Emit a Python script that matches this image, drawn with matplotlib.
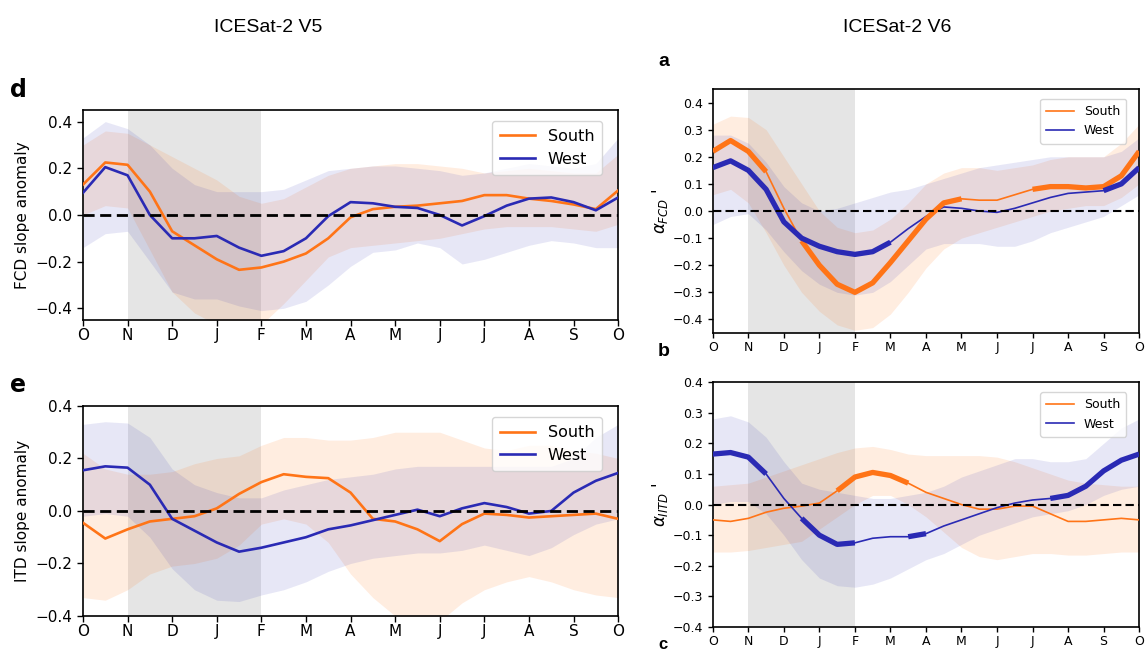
import numpy as np
import matplotlib.pyplot as plt

# month ticks, Oct -> Oct, values sampled every half month
months = ['O', 'N', 'D', 'J', 'F', 'M', 'A', 'M', 'J', 'J', 'A', 'S', 'O']
x = np.arange(25) * 0.5

# ---- V5, panel d (FCD)
d_south = [0.13, 0.225, 0.215, 0.10, -0.07, -0.13, -0.19, -0.235, -0.225, -0.20, -0.165, -0.10, -0.01,
           0.025, 0.035, 0.04, 0.05, 0.06, 0.085, 0.085, 0.07, 0.06, 0.045, 0.025, 0.105]
d_south_lo = [0.0, 0.04, 0.03, -0.15, -0.33, -0.42, -0.47, -0.5, -0.47, -0.38, -0.28, -0.18, -0.14,
              -0.13, -0.12, -0.11, -0.1, -0.08, -0.06, -0.05, -0.05, -0.05, -0.06, -0.07, -0.04]
d_south_hi = [0.3, 0.36, 0.35, 0.3, 0.25, 0.2, 0.15, 0.08, 0.05, 0.07, 0.12, 0.17, 0.2,
              0.21, 0.22, 0.22, 0.21, 0.2, 0.18, 0.19, 0.2, 0.19, 0.18, 0.18, 0.26]
d_west = [0.095, 0.205, 0.17, 0.0, -0.1, -0.1, -0.09, -0.14, -0.175, -0.155, -0.1, -0.005, 0.055,
          0.05, 0.035, 0.03, 0.0, -0.045, -0.005, 0.04, 0.07, 0.075, 0.055, 0.02, 0.075]
d_west_lo = [-0.14, -0.08, -0.07, -0.2, -0.33, -0.36, -0.36, -0.39, -0.41, -0.4, -0.37, -0.3, -0.22,
             -0.16, -0.15, -0.12, -0.14, -0.21, -0.19, -0.16, -0.13, -0.11, -0.12, -0.14, -0.14]
d_west_hi = [0.33, 0.4, 0.37, 0.3, 0.2, 0.13, 0.1, 0.1, 0.1, 0.11, 0.15, 0.19, 0.2,
             0.21, 0.21, 0.2, 0.19, 0.17, 0.18, 0.2, 0.22, 0.21, 0.2, 0.22, 0.33]

# ---- V5, panel e (ITD)
e_south = [-0.045, -0.105, -0.07, -0.04, -0.03, -0.02, 0.01, 0.065, 0.11, 0.14, 0.13, 0.125, 0.07,
           -0.03, -0.04, -0.07, -0.115, -0.05, -0.01, -0.015, -0.025, -0.02, -0.015, -0.01, -0.03]
e_south_lo = [-0.33, -0.34, -0.3, -0.24, -0.21, -0.2, -0.18, -0.13, -0.05, -0.03, -0.05, -0.12, -0.24,
              -0.33, -0.4, -0.42, -0.42, -0.35, -0.3, -0.27, -0.25, -0.27, -0.3, -0.32, -0.33]
e_south_hi = [0.22, 0.16, 0.14, 0.14, 0.15, 0.18, 0.2, 0.21, 0.25, 0.28, 0.28, 0.27, 0.27,
              0.28, 0.3, 0.3, 0.3, 0.27, 0.24, 0.23, 0.25, 0.25, 0.23, 0.22, 0.2]
e_west = [0.155, 0.17, 0.165, 0.1, -0.03, -0.075, -0.12, -0.155, -0.14, -0.12, -0.1, -0.07, -0.055,
          -0.035, -0.015, 0.005, -0.02, 0.01, 0.03, 0.015, -0.01, 0.0, 0.07, 0.115, 0.145]
e_west_lo = [-0.02, -0.01, -0.02, -0.1, -0.22, -0.3, -0.34, -0.345, -0.32, -0.3, -0.27, -0.23, -0.2,
             -0.18, -0.17, -0.16, -0.16, -0.15, -0.13, -0.15, -0.17, -0.14, -0.09, -0.05, -0.03]
e_west_hi = [0.33, 0.34, 0.335, 0.28, 0.16, 0.1, 0.07, 0.05, 0.05, 0.08, 0.1, 0.12, 0.13,
             0.14, 0.16, 0.17, 0.17, 0.17, 0.17, 0.17, 0.17, 0.17, 0.2, 0.28, 0.33]

# ---- V6, panel a (alpha FCD)
a_south = [0.22, 0.26, 0.22, 0.145, 0.01, -0.11, -0.2, -0.27, -0.3, -0.265, -0.19, -0.11, -0.03,
           0.03, 0.045, 0.04, 0.04, 0.06, 0.08, 0.09, 0.09, 0.085, 0.09, 0.13, 0.22]
a_south_lo = [0.06, 0.08, 0.03, -0.08, -0.2, -0.3, -0.37, -0.42, -0.44, -0.43, -0.38, -0.3, -0.21,
              -0.14, -0.1, -0.08, -0.06, -0.04, -0.02, 0.0, 0.01, 0.02, 0.02, 0.05, 0.1]
a_south_hi = [0.32, 0.35, 0.345, 0.3, 0.2, 0.1, 0.0, -0.06, -0.08, -0.07, -0.03, 0.03, 0.1,
              0.14, 0.16, 0.16, 0.15, 0.16, 0.17, 0.19, 0.2, 0.2, 0.2, 0.25, 0.32]
a_west = [0.16, 0.185, 0.15, 0.08, -0.04, -0.1, -0.13, -0.15, -0.16, -0.15, -0.115, -0.065, -0.02,
          0.015, 0.01, 0.0, -0.005, 0.01, 0.03, 0.05, 0.065, 0.07, 0.075, 0.1, 0.16]
a_west_lo = [-0.05, -0.02, -0.01, -0.07, -0.15, -0.22, -0.27, -0.3, -0.31, -0.3, -0.26, -0.2, -0.14,
             -0.12, -0.12, -0.12, -0.13, -0.13, -0.11, -0.08, -0.06, -0.04, -0.02, 0.02, 0.06]
a_west_hi = [0.28, 0.28, 0.25, 0.18, 0.09, 0.03, 0.0, 0.01, 0.03, 0.05, 0.07, 0.08, 0.1,
             0.12, 0.14, 0.16, 0.17, 0.18, 0.19, 0.2, 0.2, 0.2, 0.2, 0.22, 0.27]
a_south_sig = [(0, 1.5), (2.5, 6.0), (6.5, 7.0), (9.0, 10.5), (11.0, 12.0)]
a_west_sig = [(0, 1.5), (2.0, 5.0), (11.0, 12.0)]

# ---- V6, panel b (alpha ITD)
b_south = [-0.05, -0.055, -0.045, -0.025, -0.012, -0.005, 0.005, 0.045, 0.09, 0.105, 0.095, 0.07, 0.04,
           0.02, 0.0, -0.015, -0.015, -0.005, -0.005, -0.03, -0.055, -0.055, -0.05, -0.045, -0.05]
b_south_lo = [-0.155, -0.155, -0.15, -0.14, -0.13, -0.12, -0.08, -0.04, 0.0, 0.03, 0.03, 0.0, -0.04,
              -0.09, -0.14, -0.17, -0.18, -0.17, -0.16, -0.16, -0.165, -0.165, -0.16, -0.155, -0.155]
b_south_hi = [0.06, 0.065, 0.07, 0.09, 0.11, 0.13, 0.15, 0.17, 0.185, 0.19, 0.18, 0.165, 0.16,
              0.16, 0.16, 0.16, 0.155, 0.14, 0.12, 0.1, 0.08, 0.07, 0.065, 0.06, 0.06]
b_west = [0.165, 0.17, 0.155, 0.1, 0.02, -0.045, -0.1, -0.13, -0.125, -0.11, -0.105, -0.105, -0.095,
          -0.07, -0.05, -0.03, -0.01, 0.005, 0.015, 0.02, 0.03, 0.06, 0.11, 0.145, 0.165]
b_west_lo = [0.0, 0.01, 0.01, -0.03, -0.1, -0.18, -0.24, -0.265, -0.27, -0.26, -0.24, -0.21, -0.18,
             -0.16, -0.13, -0.1, -0.08, -0.06, -0.04, -0.03, -0.02, 0.0, 0.03, 0.05, 0.06]
b_west_hi = [0.28, 0.29, 0.27, 0.22, 0.14, 0.07, 0.05, 0.04, 0.03, 0.02, 0.02, 0.03, 0.04,
             0.06, 0.09, 0.11, 0.13, 0.15, 0.15, 0.14, 0.14, 0.15, 0.2, 0.25, 0.28]
b_south_sig = [(3.5, 5.5)]
b_west_sig = [(0, 1.5), (2.5, 4.0), (5.5, 6.0), (9.5, 12.0)]

ORANGE = '#ff7417'
BLUE = '#2a2ab4'


def sig_mask(intervals):
    m = np.zeros(len(x), dtype=bool)
    for a, b in intervals:
        m |= (x >= a - 1e-9) & (x <= b + 1e-9)
    return m


def panel(ax, s, s_lo, s_hi, w, w_lo, w_hi, ylim, yticks, ylabel, big, s_sig=None, w_sig=None):
    ax.axvspan(1, 4, color='#d4d4d4', alpha=0.6, lw=0, zorder=0)
    ax.fill_between(x, s_lo, s_hi, color=ORANGE, alpha=0.13, lw=0, zorder=1)
    ax.fill_between(x, w_lo, w_hi, color=BLUE, alpha=0.11, lw=0, zorder=1)
    lw = 1.9 if big else 1.2
    ax.plot(x, s, color=ORANGE, lw=lw, label='South', zorder=3, solid_joinstyle='round')
    ax.plot(x, w, color=BLUE, lw=lw, label='West', zorder=3, solid_joinstyle='round')
    if s_sig is not None:
        ax.plot(x, np.where(sig_mask(s_sig), s, np.nan), color=ORANGE, lw=3.8,
                solid_capstyle='butt', solid_joinstyle='round', zorder=3)
    if w_sig is not None:
        ax.plot(x, np.where(sig_mask(w_sig), w, np.nan), color=BLUE, lw=3.8,
                solid_capstyle='butt', solid_joinstyle='round', zorder=3)
    ax.axhline(0, color='black', ls='--', lw=2.0 if big else 1.5, dashes=(4, 2), zorder=4)
    ax.set_xlim(0, 12)
    ax.set_ylim(*ylim)
    ax.set_xticks(range(13))
    ax.set_xticklabels(months)
    ax.set_yticks(yticks)
    fs = 11 if big else 9
    ax.tick_params(labelsize=fs, length=4 if big else 3.5, width=1)
    ax.tick_params(axis='x', pad=2)
    for sp in ax.spines.values():
        sp.set_linewidth(1.2)
    if big:
        ax.set_ylabel(ylabel, fontsize=11)
        ax.legend(loc='upper right', fontsize=11.5, handlelength=2.2, borderpad=0.5,
                  bbox_to_anchor=(0.985, 0.985))
    else:
        ax.set_ylabel(ylabel, fontsize=12, labelpad=2)
        ax.legend(loc='upper right', fontsize=9, handlelength=2.2, borderpad=0.5,
                  bbox_to_anchor=(0.985, 0.985))


fig = plt.figure(figsize=(11.46, 6.53), dpi=100)

ax_d = fig.add_axes([0.0724, 0.510, 0.467, 0.3216])
ax_e = fig.add_axes([0.0724, 0.0567, 0.467, 0.3216])
ax_a = fig.add_axes([0.622, 0.490, 0.372, 0.3737])
ax_b = fig.add_axes([0.622, 0.0398, 0.372, 0.375])

panel(ax_d, d_south, d_south_lo, d_south_hi, d_west, d_west_lo, d_west_hi,
      (-0.45, 0.45), [-0.4, -0.2, 0.0, 0.2, 0.4], 'FCD slope anomaly', True)
panel(ax_e, e_south, e_south_lo, e_south_hi, e_west, e_west_lo, e_west_hi,
      (-0.4, 0.4), [-0.4, -0.2, 0.0, 0.2, 0.4], 'ITD slope anomaly', True)
panel(ax_a, a_south, a_south_lo, a_south_hi, a_west, a_west_lo, a_west_hi,
      (-0.45, 0.45), np.round(np.arange(-0.4, 0.41, 0.1), 1), r"$\alpha_{FCD}$ '", False,
      a_south_sig, a_west_sig)
panel(ax_b, b_south, b_south_lo, b_south_hi, b_west, b_west_lo, b_west_hi,
      (-0.4, 0.4), np.round(np.arange(-0.4, 0.41, 0.1), 1), r"$\alpha_{IITD}$ '", False,
      b_south_sig, b_west_sig)

title_font = ['Liberation Sans Narrow', 'Liberation Sans', 'DejaVu Sans']
fig.text(268 / 1146, 1 - 27 / 653, 'ICESat-2 V5', fontsize=14, ha='center', va='center',
         family=title_font)
fig.text(897 / 1146, 1 - 27 / 653, 'ICESat-2 V6', fontsize=14, ha='center', va='center',
         family=title_font)

fig.text(0.009, 1 - 90 / 653, 'd', fontsize=17, weight='bold', va='center')
fig.text(0.009, 1 - 385 / 653, 'e', fontsize=17, weight='bold', va='center')
for lab, yy in [('a', 62), ('b', 352)]:
    fig.text(658 / 1146, 1 - yy / 653, lab, fontsize=14, weight='bold', va='center',
             family=['Liberation Sans', 'DejaVu Sans'])
# the next panel label sits at the very bottom edge
fig.text(658 / 1146, 0.001, 'c', fontsize=12, weight='bold', va='bottom',
         family=['Liberation Sans', 'DejaVu Sans'])

fig.savefig('out.png', dpi=100)
